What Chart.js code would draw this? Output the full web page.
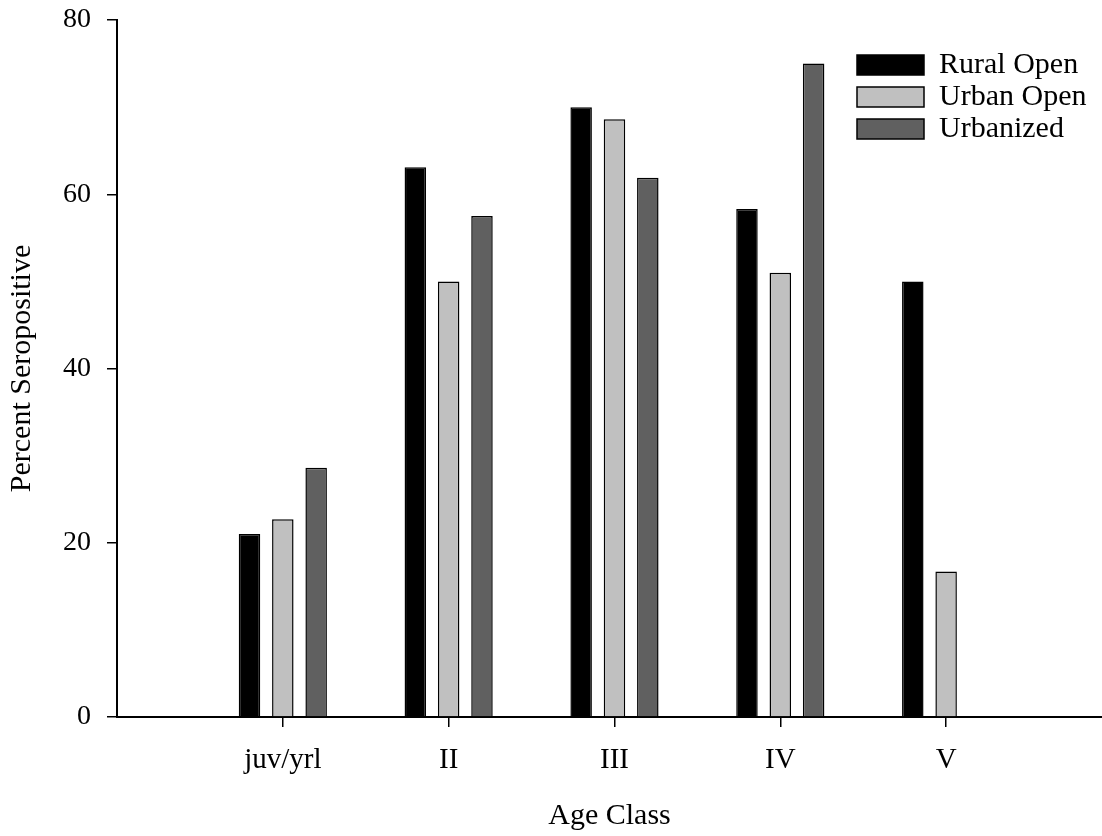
<!DOCTYPE html>
<html><head><meta charset="utf-8">
<script src="https://cdn.jsdelivr.net/npm/chart.js@4/dist/chart.umd.min.js"></script>
<style>html,body{margin:0;padding:0;background:#fff;overflow:hidden}#wrap{width:1102px;height:836px;position:relative}</style>
</head><body><div id="wrap"><canvas id="c"></canvas></div>
<script>
const ageClasses = ['juv/yrl', 'II', 'III', 'IV', 'V'];
const ruralOpen = [21, 63.1, 70, 58.3, 50];
const urbanOpen = [22.7, 50, 68.6, 51, 16.7];
const urbanized = [28.6, 57.5, 61.9, 75, null];
const yTicks = [0, 20, 40, 60, 80];
const seriesNames = ['Rural Open', 'Urban Open', 'Urbanized'];
const seriesColors = ['#000000', '#c0c0c0', '#606060'];

Chart.defaults.font.family = "'Liberation Serif', 'Times New Roman', serif";
Chart.defaults.font.size = 30;
Chart.defaults.color = '#000';

const toPoints = arr => arr.map((v, i) => ({ x: i + 1, y: v }));
const seriesData = [ruralOpen, urbanOpen, urbanized];

const legendPos = {
  id: 'legendPos',
  afterLayout(chart) {
    const l = chart.legend;
    if (!l) return;
    l.left = 855; l.right = 1102; l.top = 48; l.bottom = 160;
  }
};

new Chart(document.getElementById('c'), {
  type: 'bar',
  data: {
    datasets: seriesData.map((d, k) => ({
      label: seriesNames[k],
      data: toPoints(d),
      backgroundColor: seriesColors[k],
      borderColor: '#000',
      borderWidth: 1.5,
      categoryPercentage: 0.603,
      barPercentage: 0.645
    }))
  },
  options: {
    responsive: true,
    maintainAspectRatio: false,
    animation: false,
    devicePixelRatio: 1,
    layout: { padding: { top: 20, right: 0, bottom: 0, left: 0 } },
    plugins: {
      legend: {
        position: 'chartArea',
        align: 'start',
        labels: { boxWidth: 67, boxHeight: 20, padding: 2, font: { size: 30 } }
      },
      tooltip: { enabled: false }
    },
    scales: {
      x: {
        type: 'linear',
        min: 0,
        max: 5.94,
        offset: false,
        afterBuildTicks: s => { s.ticks = ageClasses.map((_, i) => ({ value: i + 1 })); },
        ticks: { callback: v => ageClasses[v - 1] ?? '', padding: 16, maxRotation: 0, autoSkip: false, font: { size: 29 } },
        grid: { offset: false, drawOnChartArea: false, drawTicks: true, tickLength: 10, color: '#000', lineWidth: 1.5 },
        border: { display: true, color: '#000', width: 2 },
        title: { display: true, text: 'Age Class', padding: { top: 4, bottom: 2 } },
        afterFit: s => { s.height = 119; s.paddingLeft = 0; s.paddingRight = 0; }
      },
      y: {
        min: 0,
        max: 80,
        afterBuildTicks: s => { s.ticks = yTicks.map(v => ({ value: v })); },
        ticks: { padding: 16, font: { size: 28 } },
        grid: { drawOnChartArea: false, drawTicks: true, tickLength: 10, color: '#000', lineWidth: 1.5 },
        border: { display: true, color: '#000', width: 2 },
        title: { display: true, text: 'Percent Seropositive', padding: { top: 4, bottom: 4 } },
        afterFit: s => { s.width = 117; s.paddingTop = 0; s.paddingBottom = 0; }
      }
    }
  },
  plugins: [legendPos]
});
</script>
</body></html>
